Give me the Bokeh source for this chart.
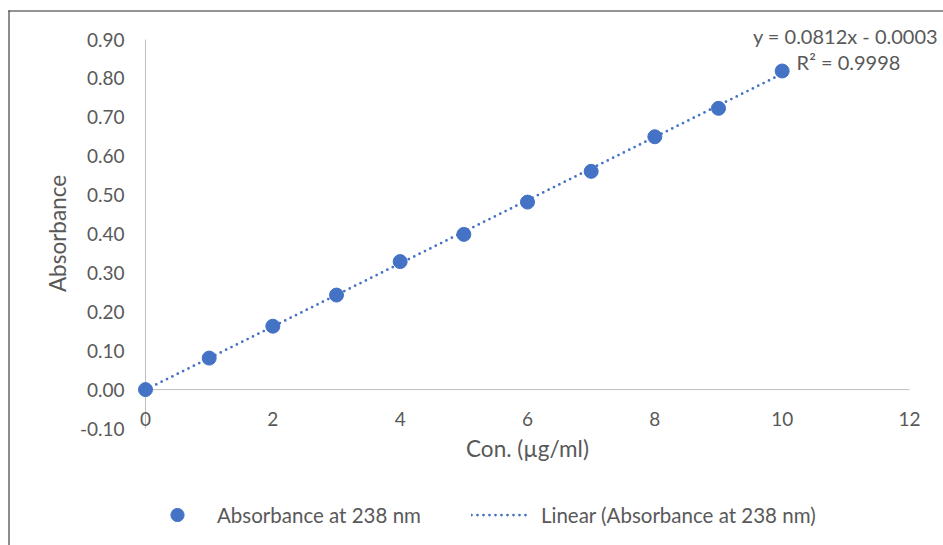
import math
from bokeh.plotting import figure
from bokeh.models import (Range1d, Label, LabelSet, ColumnDataSource, Legend, LegendItem)
from bokeh.core.properties import value
from bokeh.embed import file_html
from bokeh.resources import INLINE

# ---- data ----
conc = [0, 1, 2, 3, 4, 5, 6, 7, 8, 9, 10]
absorbance = [0.0, 0.081, 0.163, 0.243, 0.329, 0.399, 0.482, 0.561, 0.650, 0.723, 0.819]
slope = 0.0812
intercept = -0.0003
r2 = 0.9998
x_ticks = [0, 2, 4, 6, 8, 10, 12]
y_ticks = [-0.1, 0.0, 0.1, 0.2, 0.3, 0.4, 0.5, 0.6, 0.7, 0.8, 0.9]
series_name = "Absorbance at 238 nm"
trend_name = "Linear (Absorbance at 238 nm)"
x_title = "Con. (µg/ml)"
y_title = "Absorbance"

# ---- layout (pixels) ----
W, H = 943, 545
PX_LEFT, PX_RIGHT = 145, 909     # x = x_ticks[0] .. x_ticks[-1]
PY_TOP, PY_BOT = 39, 428         # y = y_ticks[-1] .. y_ticks[0]

x0, x1 = x_ticks[0], x_ticks[-1]
y0, y1 = y_ticks[0], y_ticks[-1]
sx = (PX_RIGHT - PX_LEFT) / (x1 - x0)
sy = (PY_BOT - PY_TOP) / (y1 - y0)


def dx(px):
    return x0 + (px - PX_LEFT) / sx


def dy(py):
    return y0 + (PY_BOT - py) / sy


FONT_NAME = "Lato"
FONT = value(FONT_NAME)
GREY = "#595959"
BLUE = "#4472C4"
AXIS = "#bfbfbf"

p = figure(width=W, height=H, output_backend="svg", toolbar_location=None,
           x_range=Range1d(dx(0), dx(W)), y_range=Range1d(dy(H), dy(0)),
           min_border=0, min_border_left=0, min_border_right=0,
           min_border_top=0, min_border_bottom=0,
           background_fill_color="white", border_fill_color="white")
p.outline_line_color = None
p.grid.visible = False
p.axis.visible = False

# chart-area border (top and left edges visible in the reference)
p.segment(x0=[dx(8)], y0=[dy(10.5)], x1=[dx(W)], y1=[dy(10.5)], line_color="#707070", line_width=1.5)
p.segment(x0=[dx(8.5)], y0=[dy(10)], x1=[dx(8.5)], y1=[dy(H)], line_color="#1a1a1a", line_width=1)

# axis lines
p.segment(x0=[x0], y0=[y0], x1=[x0], y1=[y1], line_color=AXIS, line_width=1)
p.segment(x0=[x0], y0=[0], x1=[x1], y1=[0], line_color=AXIS, line_width=1)

# y tick labels
ysrc = ColumnDataSource(dict(x=[x0] * len(y_ticks), y=y_ticks,
                             t=[f"{v:.2f}" for v in y_ticks]))
p.add_layout(LabelSet(x="x", y="y", text="t", source=ysrc, x_offset=-21,
                      text_align="right", text_baseline="middle",
                      text_font=FONT, text_font_size="19px", text_color=GREY))

# x tick labels (Excel puts them under the y=0 axis line)
xsrc = ColumnDataSource(dict(x=x_ticks, y=[0] * len(x_ticks), t=[str(v) for v in x_ticks]))
p.add_layout(LabelSet(x="x", y="y", text="t", source=xsrc, y_offset=-29,
                      text_align="center", text_baseline="middle",
                      text_font=FONT, text_font_size="19px", text_color=GREY))

# axis titles
p.add_layout(Label(x=dx(57), y=dy(233), text=y_title, angle=math.pi / 2,
                   text_align="center", text_baseline="middle",
                   text_font=FONT_NAME, text_font_size="22.5px", text_color=GREY))
p.add_layout(Label(x=dx(527), y=dy(448), text=x_title,
                   text_align="center", text_baseline="middle",
                   text_font=FONT_NAME, text_font_size="22.5px", text_color=GREY))

# trendline
tx = [conc[0], conc[-1]]
ty = [slope * v + intercept for v in tx]
trend = p.line(tx, ty, line_color=BLUE, line_width=2.75, line_dash="0 6", line_cap="round")
pts = p.scatter(conc, absorbance, size=14, fill_color=BLUE, line_color=BLUE)

# equation labels
eq = f"y = {slope}x - {abs(intercept):.4f}"
rr = f"R² = {r2}"
p.add_layout(Label(x=dx(845), y=dy(35), text=eq, text_align="center",
                   text_baseline="middle", text_font=FONT_NAME, text_font_size="20px", text_color=GREY))
p.add_layout(Label(x=dx(848), y=dy(61), text=rr, text_align="center",
                   text_baseline="middle", text_font=FONT_NAME, text_font_size="20px", text_color=GREY))

legend = Legend(items=[LegendItem(label=series_name, renderers=[pts]),
                       LegendItem(label=trend_name, renderers=[trend])],
                orientation="horizontal", location=(147, H - 531),
                glyph_width=60, glyph_height=33, label_standoff=10, spacing=50,
                padding=0, margin=0, border_line_color=None, background_fill_alpha=0,
                label_text_font=FONT_NAME, label_text_font_size="20.5px", label_text_color=GREY)
p.add_layout(legend, "center")

open("out.html", "w").write(file_html(p, INLINE))
